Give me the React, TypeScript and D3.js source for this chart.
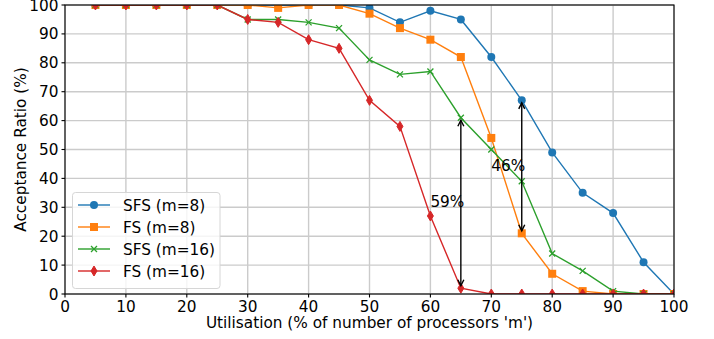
import React from "react";
import * as d3 from "d3";

const xValues = [5, 10, 15, 20, 25, 30, 35, 40, 45, 50, 55, 60, 65, 70, 75, 80, 85, 90, 95, 100];
const sfs8 = [100, 100, 100, 100, 100, 100, 100, 100, 100, 99, 94, 98, 95, 82, 67, 49, 35, 28, 11, 0];
const fs8 = [100, 100, 100, 100, 100, 100, 99, 100, 100, 97, 92, 88, 82, 54, 21, 7, 1, 0, 0, 0];
const sfs16 = [100, 100, 100, 100, 100, 95, 95, 94, 92, 81, 76, 77, 61, 50, 39, 14, 8, 1, 0, 0];
const fs16 = [100, 100, 100, 100, 100, 95, 94, 88, 85, 67, 58, 27, 2, 0, 0, 0, 0, 0, 0, 0];
const xTicks = [0, 10, 20, 30, 40, 50, 60, 70, 80, 90, 100];
const yTicks = [0, 10, 20, 30, 40, 50, 60, 70, 80, 90, 100];
const seriesNames = ["SFS (m=8)", "FS (m=8)", "SFS (m=16)", "FS (m=16)"];
const seriesColors = ["#1f77b4", "#ff7f0e", "#2ca02c", "#d62728"];
const seriesMarkers = ["circle", "square", "x", "thin_diamond"];
const annotations = [
  { x: 65, from: 61, to: 2, label: "59%", lx: 60, ly: 30 },
  { x: 75, from: 67, to: 21, label: "46%", lx: 70, ly: 42.5 },
];

const W = 714, H = 339;
const L = 65, R = 674, T = 5, B = 294;
const FONT = "DejaVu Sans, sans-serif";
const FS = 15.3;

function Marker({ type, cx, cy, color }: { type: string; cx: number; cy: number; color: string }) {
  if (type === "circle") return <circle cx={cx} cy={cy} r={4} fill={color} />;
  if (type === "square") return <rect x={cx - 4} y={cy - 4} width={8} height={8} fill={color} />;
  if (type === "x")
    return (
      <path d={`M${cx - 3},${cy - 3}L${cx + 3},${cy + 3}M${cx - 3},${cy + 3}L${cx + 3},${cy - 3}`} stroke={color} strokeWidth={1.3} />
    );
  return <path d={`M${cx},${cy - 5}L${cx + 3},${cy}L${cx},${cy + 5}L${cx - 3},${cy}Z`} fill={color} stroke={color} strokeWidth={1} />;
}

export default function App() {
  const x = d3.scaleLinear().domain([0, 100]).range([L, R]);
  const y = d3.scaleLinear().domain([0, 100]).range([B, T]);
  const all = [sfs8, fs8, sfs16, fs16];
  const line = d3
    .line<number>()
    .x((_, i) => x(xValues[i]))
    .y((d) => y(d));

  const arrowHead = (tx: number, ty: number, dir: number) =>
    `M${tx - 3},${ty - dir * 6}L${tx},${ty}L${tx + 3},${ty - dir * 6}`;

  return (
    <svg width={W} height={H} style={{ position: "absolute", left: 0, top: 0 }} fontFamily={FONT}>
      <defs>
        <clipPath id="plot">
          <rect x={L} y={T} width={R - L} height={B - T} />
        </clipPath>
      </defs>
      <rect width={W} height={H} fill="#fff" />
      {xTicks.map((t) => (
        <line key={"gx" + t} x1={x(t)} x2={x(t)} y1={T} y2={B} stroke="#cbcbcb" strokeWidth={1.4} />
      ))}
      {yTicks.map((t) => (
        <line key={"gy" + t} x1={L} x2={R} y1={y(t)} y2={y(t)} stroke="#cbcbcb" strokeWidth={1.4} />
      ))}
      <g clipPath="url(#plot)">
        {all.map((s, si) => (
          <g key={si}>
            <path d={line(s) || ""} fill="none" stroke={seriesColors[si]} strokeWidth={1.4} />
            {s.map((v, i) => (
              <Marker key={i} type={seriesMarkers[si]} cx={x(xValues[i])} cy={y(v)} color={seriesColors[si]} />
            ))}
          </g>
        ))}
      </g>
      {annotations.map((a, i) => {
        const y1 = y(a.from) + 2.5;
        const y2 = y(a.to) - 2.5;
        return (
          <g key={"a" + i}>
            <line x1={x(a.x)} x2={x(a.x)} y1={y1} y2={y2} stroke="#000" strokeWidth={1.4} />
            <path d={arrowHead(x(a.x), y1, -1)} fill="none" stroke="#000" strokeWidth={1.4} />
            <path d={arrowHead(x(a.x), y2, 1)} fill="none" stroke="#000" strokeWidth={1.4} />
            <text x={x(a.lx)} y={y(a.ly)} fontSize={FS} fill="#000">
              {a.label}
            </text>
          </g>
        );
      })}
      <rect x={L} y={T} width={R - L} height={B - T} fill="none" stroke="#000" strokeWidth={1.1} />
      {xTicks.map((t) => (
        <g key={"tx" + t}>
          <line x1={x(t)} x2={x(t)} y1={B} y2={B + 3.5} stroke="#000" strokeWidth={1.1} />
          <text x={x(t)} y={B + 17.5} textAnchor="middle" fontSize={FS} fill="#000">
            {t}
          </text>
        </g>
      ))}
      {yTicks.map((t) => (
        <g key={"ty" + t}>
          <line x1={L - 3.5} x2={L} y1={y(t)} y2={y(t)} stroke="#000" strokeWidth={1.1} />
          <text x={L - 6.5} y={y(t) + 5.5} textAnchor="end" fontSize={FS} fill="#000">
            {t}
          </text>
        </g>
      ))}
      <text x={(L + R) / 2} y={328} textAnchor="middle" fontSize={FS} fill="#000">
        Utilisation (% of number of processors 'm')
      </text>
      <text transform={`translate(26,${(T + B) / 2}) rotate(-90)`} textAnchor="middle" fontSize={FS} fill="#000">
        Acceptance Ratio (%)
      </text>
      <g>
        <rect x={72.5} y={192.5} width={147.5} height={96} rx={3} fill="#fff" fillOpacity={0.8} stroke="#d6d6d6" strokeWidth={1} />
        {seriesNames.map((n, i) => {
          const ly = 205 + i * 22;
          return (
            <g key={"l" + i}>
              <line x1={78} x2={110} y1={ly} y2={ly} stroke={seriesColors[i]} strokeWidth={1.4} />
              <Marker type={seriesMarkers[i]} cx={94} cy={ly} color={seriesColors[i]} />
              <text x={123} y={ly + 5.5} fontSize={FS} fill="#000">
                {n}
              </text>
            </g>
          );
        })}
      </g>
    </svg>
  );
}
